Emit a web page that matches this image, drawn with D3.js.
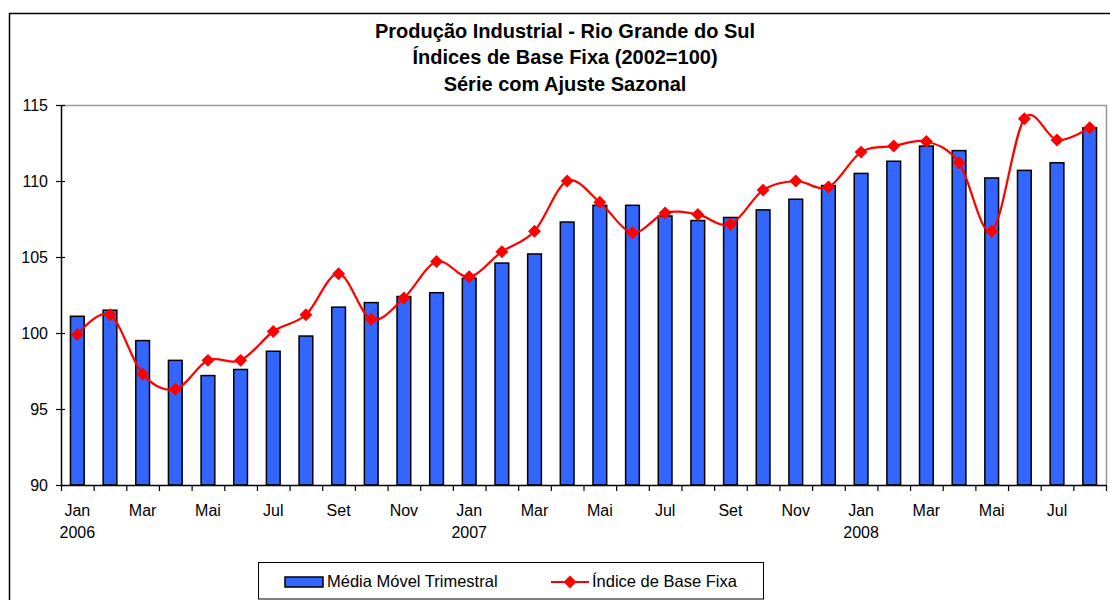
<!DOCTYPE html>
<html>
	<head>
		<meta charset="utf-8">
		<style type="text/css">
			body { margin: 0; background: #fff; }
			text { font-family: "Liberation Sans", Arial, sans-serif; fill: #000; }
		</style>
		<title>Produção Industrial - Rio Grande do Sul</title>
	</head>
	<body>
		<script src="https://cdn.jsdelivr.net/npm/d3@7"></script>
		<script>

// data
var months = ["Jan","Fev","Mar","Abr","Mai","Jun","Jul","Ago","Set","Out","Nov","Dez"];
var years = [2006, 2007, 2008];
var categories = [];
years.forEach(function(yr) {
    months.forEach(function(m) { categories.push(m + " " + yr); });
});
categories = categories.slice(0, 32); // Jan 2006 .. Ago 2008

var mediaMovel = [101.1, 101.5, 99.5, 98.2, 97.2, 97.6, 98.8, 99.8, 101.7, 102.0, 102.4, 102.65,
                  103.6, 104.6, 105.2, 107.3, 108.4, 108.4, 107.7, 107.4, 107.6, 108.1, 108.8, 109.7,
                  110.5, 111.3, 112.3, 112.0, 110.2, 110.7, 111.2, 113.5];
var indiceBase = [99.9, 101.2, 97.3, 96.3, 98.2, 98.2, 100.1, 101.2, 103.9, 100.9, 102.3, 104.7,
                  103.7, 105.35, 106.7, 110.0, 108.6, 106.6, 107.9, 107.8, 107.15, 109.4, 110.0, 109.6,
                  111.9, 112.3, 112.6, 111.2, 106.7, 114.1, 112.7, 113.5];
var yTicks = [90, 95, 100, 105, 110, 115];
var titleLines = ["Produção Industrial - Rio Grande do Sul",
                  "Índices de Base Fixa (2002=100)",
                  "Série com Ajuste Sazonal"];
var legendLabels = ["Média Móvel Trimestral", "Índice de Base Fixa"];

var W = 1110, H = 600;
var plot = {left: 61, right: 1106, top: 105, bottom: 485};

var svg = d3.select("body").append("svg")
    .attr("width", W)
    .attr("height", H);

// outer chart border (right/bottom run off the picture)
svg.append("rect")
    .attr("x", 9.5).attr("y", 13.5)
    .attr("width", 1130).attr("height", 620)
    .attr("fill", "none").attr("stroke", "#000").attr("stroke-width", 1.5);

// title
svg.append("g").selectAll("text")
    .data(titleLines)
    .enter().append("text")
    .attr("x", 565)
    .attr("y", function(d, i) { return 37.5 + i * 26.5; })
    .attr("text-anchor", "middle")
    .style("font-weight", "bold")
    .style("font-size", "20px")
    .text(function(d) { return d; });

var x = d3.scaleBand()
    .domain(categories)
    .range([plot.left, plot.right])
    .padding(0);

var xEdges = d3.scaleLinear()
    .domain([0, categories.length])
    .range([plot.left, plot.right]);

var y = d3.scaleLinear()
    .domain([90, 115])
    .range([plot.bottom, plot.top]);

// plot area frame (grey top and right)
svg.append("path")
    .attr("d", "M" + plot.left + "," + (plot.top + 0.5) + "H" + (plot.right + 0.5) + "V" + plot.bottom)
    .attr("fill", "none").attr("stroke", "#999").attr("stroke-width", 1.5);

// bars
var barW = x.bandwidth() * 0.42;
svg.append("g").selectAll("rect")
    .data(mediaMovel)
    .enter().append("rect")
    .attr("x", function(d, i) { return x(categories[i]) + (x.bandwidth() - barW) / 2; })
    .attr("y", function(d) { return y(d); })
    .attr("width", barW)
    .attr("height", function(d) { return y(90) - y(d); })
    .attr("fill", "#3366FF")
    .attr("stroke", "#000")
    .attr("stroke-width", 1.5);

// y axis
var yAxis = svg.append("g")
    .attr("transform", "translate(" + plot.left + ",0)")
    .call(d3.axisLeft(y).tickValues(yTicks).tickSizeInner(5).tickSizeOuter(0).tickPadding(8));
yAxis.select(".domain").attr("stroke", "#000").attr("stroke-width", 1.5);
yAxis.selectAll(".tick line").attr("x1", 4).attr("stroke-width", 1.2);
yAxis.selectAll(".tick text")
    .style("font-size", "16px")
    .attr("font-family", null)
    .attr("dy", "0.35em");

// x axis: ticks on month boundaries
var xAxis = svg.append("g")
    .attr("transform", "translate(0," + plot.bottom + ")")
    .call(d3.axisBottom(xEdges).tickValues(d3.range(0, categories.length + 1)).tickFormat("").tickSizeInner(6).tickSizeOuter(0));
xAxis.select(".domain").attr("stroke", "#000").attr("stroke-width", 1.5);
xAxis.selectAll(".tick line").attr("stroke-width", 1.2);

// month labels every second month, year under January
svg.append("g").selectAll("text")
    .data(categories.filter(function(d, i) { return i % 2 === 0; }))
    .enter().append("text")
    .attr("x", function(d) { return x(d) + x.bandwidth() / 2; })
    .attr("y", 516)
    .attr("text-anchor", "middle")
    .style("font-size", "16px")
    .text(function(d) { return d.split(" ")[0]; });

svg.append("g").selectAll("text")
    .data(categories.filter(function(d) { return d.indexOf("Jan") === 0; }))
    .enter().append("text")
    .attr("x", function(d) { return x(d) + x.bandwidth() / 2; })
    .attr("y", 538)
    .attr("text-anchor", "middle")
    .style("font-size", "16px")
    .text(function(d) { return d.split(" ")[1]; });

// smoothed line
var line = d3.line()
    .x(function(d, i) { return x(categories[i]) + x.bandwidth() / 2; })
    .y(function(d) { return y(d); })
    .curve(d3.curveCardinal.tension(0));

svg.append("path")
    .datum(indiceBase)
    .attr("d", line)
    .attr("fill", "none")
    .attr("stroke", "#FF0000")
    .attr("stroke-width", 2.2);

var diamond = d3.symbol().type(d3.symbolSquare).size(84);
svg.append("g").selectAll("path")
    .data(indiceBase)
    .enter().append("path")
    .attr("d", diamond)
    .attr("transform", function(d, i) {
        return "translate(" + (x(categories[i]) + x.bandwidth() / 2) + "," + y(d) + ") rotate(45)";
    })
    .attr("fill", "#FF0000");

// legend
var legend = svg.append("g");
legend.append("rect")
    .attr("x", 258.5).attr("y", 562.5)
    .attr("width", 505).attr("height", 36.5)
    .attr("fill", "#fff").attr("stroke", "#000").attr("stroke-width", 1);

legend.append("rect")
    .attr("x", 285).attr("y", 577)
    .attr("width", 38).attr("height", 10)
    .attr("fill", "#3366FF").attr("stroke", "#000").attr("stroke-width", 1.5);
legend.append("text")
    .attr("x", 327).attr("y", 587)
    .style("font-size", "16.5px")
    .text(legendLabels[0]);

legend.append("line")
    .attr("x1", 551).attr("x2", 589)
    .attr("y1", 582).attr("y2", 582)
    .attr("stroke", "#FF0000").attr("stroke-width", 2.2);
legend.append("path")
    .attr("d", diamond)
    .attr("transform", "translate(570,582) rotate(45)")
    .attr("fill", "#FF0000");
legend.append("text")
    .attr("x", 592).attr("y", 587)
    .style("font-size", "16.5px")
    .text(legendLabels[1]);

		</script>
	</body>
</html>
